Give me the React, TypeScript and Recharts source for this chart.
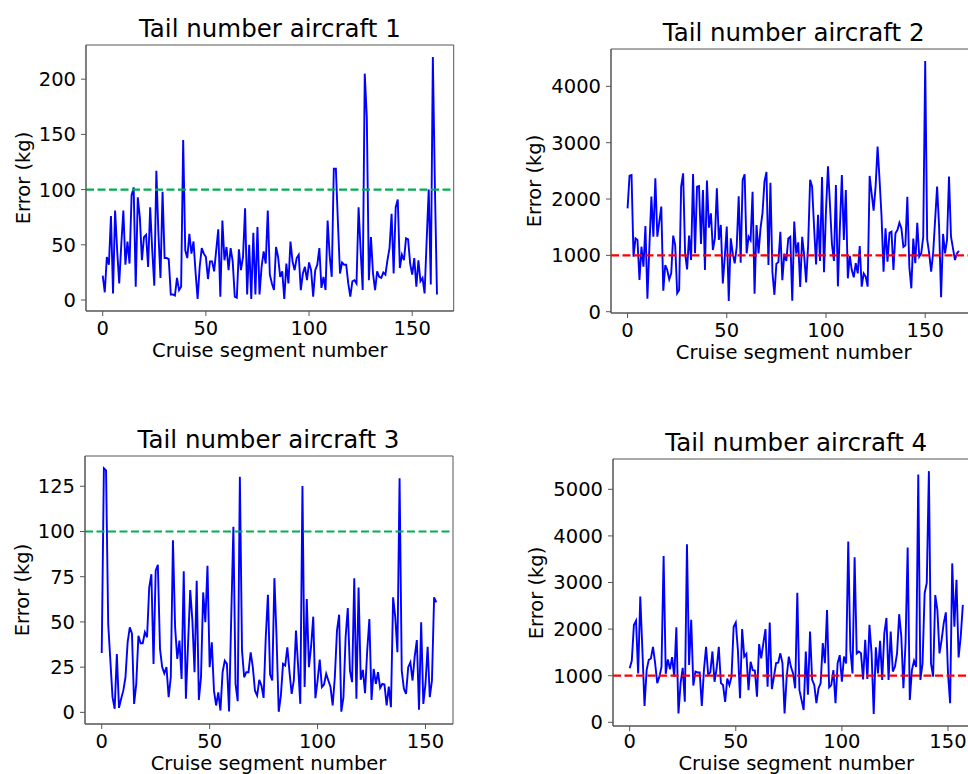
import React from "react";
import { LineChart, Line, XAxis, YAxis, ReferenceLine, ReferenceArea } from "recharts";

const xTicks = [0, 50, 100, 150];

// aircraft 1
const errors1 = [
  22, 7, 39, 32, 76, 6, 81, 45, 15, 50, 81, 32, 53, 33, 95, 102, 12, 93, 75, 36,
  57, 59, 30, 84, 45, 13, 117, 60, 20, 98, 38, 38, 37, 5, 5, 4, 20, 9, 12, 145,
  45, 38, 60, 42, 53, 25, 1, 30, 47, 42, 39, 19, 35, 35, 26, 45, 64, 3, 72, 36,
  48, 27, 47, 35, 3, 2, 46, 27, 39, 83, 5, 50, 1, 61, 5, 66, 5, 30, 44, 33,
  81, 23, 15, 9, 48, 39, 21, 26, 1, 33, 15, 53, 35, 27, 38, 41, 9, 24, 30, 18,
  34, 27, 3, 27, 32, 47, 11, 21, 9, 72, 40, 21, 119, 119, 70, 24, 34, 32, 32, 15,
  3, 17, 18, 15, 84, 45, 9, 205, 165, 18, 57, 24, 9, 26, 21, 20, 25, 23, 36, 47,
  78, 24, 84, 91, 29, 41, 36, 56, 55, 33, 23, 38, 12, 36, 17, 20, 6, 54, 100, 14,
  220, 102, 5,
];
const yTicks1 = [0, 50, 100, 150, 200];

// aircraft 2
const errors2 = [
  1835, 2415, 2427, 977, 1302, 1273, 562, 1154, 800, 1521, 231, 1154, 2042, 1330, 2368, 1332, 1598, 1865, 373, 829,
  740, 574, 681, 1350, 1184, 326, 385, 2220, 2457, 1036, 752, 1350, 918, 2445, 1036, 2220, 2232, 1202, 2160, 740,
  2327, 1492, 1746, 1095, 1300, 2190, 1273, 1540, 503, 977, 1510, 190, 1302, 1036, 858, 1150, 2050, 870, 2340, 2440,
  1036, 1330, 1270, 2130, 320, 1540, 1036, 1480, 1750, 2310, 2480, 830, 2290, 700, 300, 850, 880, 1420, 560, 1030,
  900, 1300, 1330, 195, 1600, 1030, 1230, 440, 1330, 1000, 520, 1180, 2340, 2220, 1500, 840, 1720, 900, 2390, 700,
  1800, 2580, 1900, 1200, 900, 2250, 450, 1500, 2427, 1273, 2160, 592, 990, 740, 610, 860, 680, 1166, 444, 680,
  622, 444, 2410, 2100, 1794, 2220, 2930, 2340, 1690, 710, 1480, 888, 1400, 1420, 740, 1390, 1450, 1580, 1480, 1150,
  1180, 2040, 800, 415, 1300, 860, 1580, 977, 1036, 1330, 4450, 1285, 1036, 710, 1036, 1630, 2220, 1510, 255, 1380,
  1036, 1273, 2400, 1330, 1125, 918, 1036, 1078,
];
const yTicks2 = [0, 1000, 2000, 3000, 4000];

// aircraft 3
const errors3 = [
  32.8, 135, 133.8, 48.9, 28.6, 8.4, 2, 32.3, 2.5, 7.5, 12, 19.4, 38.7, 47, 43.7, 4.7, 15.7, 42.4, 38.2, 38.2,
  44.3, 41.5, 69, 76.4, 26.8, 78.3, 81.6, 35.1, 25, 21.6, 25, 8.4, 19.4, 95.2, 47, 29.5, 39.7, 18.5, 78, 7.5,
  37.8, 67.6, 50.7, 22.2, 72.8, 6.9, 19.4, 66.3, 49.8, 81, 25, 38.7, 12, 3.8, 11.1, 1, 22.2, 28.6, 26.8, 0.5,
  52.5, 102.6, 15.7, 6.2, 130.2, 34.1, 19.4, 22.2, 22.2, 33.2, 25, 12, 9.3, 18, 14.8, 8, 41.5, 65, 20.9, 17.6,
  74.2, 41.5, 0.3, 9.3, 26.8, 25.9, 36, 22.2, 10.2, 17.6, 45.2, 25.3, 4.7, 125.2, 14, 62.6, 25, 36.3, 52.9, 7.8,
  17.6, 29.2, 14, 15.4, 21.3, 17.6, 14, 3.8, 19.4, 45.2, 54, 0.4, 8.4, 41.5, 57.7, 23.1, 16.7, 74.2, 7.5, 69,
  18, 23.5, 10.6, 34.1, 51.6, 6.9, 24, 15.7, 22.2, 13.5, 15.7, 15.4, 3.8, 14.3, 2.9, 63.6, 52.5, 33.2, 129.4, 23.1,
  13, 10.2, 25, 27.7, 17.6, 30.8, 40, 1.4, 49.8, 4.7, 15.7, 36.3, 8.4, 17.6, 63.6, 60.8,
];
const yTicks3 = [0, 25, 50, 75, 100, 125];

// aircraft 4
const errors4 = [
  1160, 1320, 2090, 2180, 1050, 2700, 1550, 350, 1120, 1340, 1370, 1620, 1270, 840, 980, 1190, 3570, 1040, 1350, 1140,
  1400, 980, 2040, 190, 840, 1170, 440, 3820, 1230, 2200, 790, 1090, 1070, 1070, 350, 1120, 1620, 1020, 1070, 1520,
  870, 1160, 1620, 840, 800, 440, 940, 800, 980, 2050, 2140, 1550, 515, 2000, 1410, 1470, 690, 1300, 1120, 1110,
  550, 1680, 1370, 1700, 2000, 765, 2140, 710, 980, 1270, 1280, 1480, 1270, 190, 980, 1410, 1190, 1050, 730, 2780,
  690, 480, 265, 1520, 590, 1950, 910, 800, 410, 730, 840, 1700, 1270, 2410, 750, 800, 1120, 410, 1270, 1440,
  870, 1410, 1260, 3880, 1550, 1050, 3540, 1480, 1520, 1480, 920, 1770, 930, 2090, 1480, 181, 1610, 1050, 1750, 910,
  1910, 2240, 910, 1950, 1090, 1190, 1480, 2320, 1840, 730, 1700, 3750, 480, 1120, 1320, 1190, 5320, 910, 1260, 2770,
  2990, 5390, 1260, 980, 2730, 2410, 1480, 1770, 2130, 2360, 1050, 410, 3410, 2050, 3060, 1390, 1840, 2520,
];
const yTicks4 = [0, 1000, 2000, 3000, 4000, 5000];

const FONT = '"DejaVu Sans", sans-serif';
const TICK = 19.5;
const YW = 70;
const XH = 40;
const PAD = 5;

function pad5(lo: number, hi: number): [number, number] {
  const r = hi - lo;
  return [lo - 0.05 * r, hi + 0.05 * r];
}

interface PanelProps {
  title: string;
  values: number[];
  yTicks: number[];
  limit: number;
  limitColor: string;
  left: number;
  top: number;
  w: number;
  h: number;
  labelGap: number;
  xGap?: number;
}

function Panel({ title, values, yTicks, limit, limitColor, left, top, w, h, labelGap, xGap = 5 }: PanelProps) {
  const data = values.map((y, x) => ({ x, y }));
  const xDom = pad5(0, values.length - 1);
  const yDom = pad5(Math.min(...values), Math.max(...values));
  const tickStyle = { fontSize: TICK, fill: "#000", fontFamily: FONT };

  return (
    <>
      <div style={{ position: "absolute", left: left - YW, top: top - PAD }}>
        <LineChart
          width={YW + w + PAD}
          height={PAD + h + XH}
          data={data}
          margin={{ top: PAD, right: PAD, left: 0, bottom: 0 }}
        >
          <XAxis
            type="number"
            dataKey="x"
            domain={xDom}
            ticks={xTicks}
            allowDataOverflow
            height={XH}
            tick={tickStyle}
            tickSize={5}
            tickMargin={xGap}
            tickLine={{ stroke: "#555" }}
            axisLine={{ stroke: "#555" }}
          />
          <YAxis
            type="number"
            domain={yDom}
            ticks={yTicks}
            allowDataOverflow
            width={YW}
            tick={tickStyle}
            tickSize={5}
            tickMargin={5}
            tickLine={{ stroke: "#555" }}
            axisLine={{ stroke: "#555" }}
          />
          <ReferenceArea
            x1={xDom[0]}
            x2={xDom[1]}
            y1={yDom[0]}
            y2={yDom[1]}
            fill="none"
            stroke="#555"
            strokeWidth={1}
          />
          <Line
            type="linear"
            dataKey="y"
            stroke="#0000ff"
            strokeWidth={1.9}
            dot={false}
            isAnimationActive={false}
          />
          <ReferenceLine y={limit} stroke={limitColor} strokeWidth={2.2} strokeDasharray="8 3.5" />
        </LineChart>
      </div>
      <div
        style={{
          position: "absolute",
          left: left + w / 2,
          top: top - 16,
          transform: "translate(-50%, -50%)",
          fontFamily: FONT,
          fontSize: 24.5,
          whiteSpace: "nowrap",
          lineHeight: 1,
        }}
      >
        {title}
      </div>
      <div
        style={{
          position: "absolute",
          left: left - labelGap,
          top: top + h / 2,
          transform: "translate(-50%, -50%) rotate(-90deg)",
          fontFamily: FONT,
          fontSize: TICK,
          whiteSpace: "nowrap",
          lineHeight: 1,
        }}
      >
        Error (kg)
      </div>
      <div
        style={{
          position: "absolute",
          left: left + w / 2,
          top: Math.min(top + h + 40, 763.5),
          transform: "translate(-50%, -50%)",
          fontFamily: FONT,
          fontSize: TICK,
          whiteSpace: "nowrap",
          lineHeight: 1,
        }}
      >
        Cruise segment number
      </div>
    </>
  );
}

export default function App() {
  return (
    <div
      style={{
        position: "absolute",
        left: 0,
        top: 0,
        width: 968,
        height: 774,
        overflow: "hidden",
        background: "#fff",
      }}
    >
      <Panel title="Tail number aircraft 1" values={errors1} yTicks={yTicks1} limit={100} limitColor="#00b050" left={86} top={44.7} w={367.7} h={266} labelGap={62} />
      <Panel title="Tail number aircraft 2" values={errors2} yTicks={yTicks2} limit={1000} limitColor="#ff0000" left={611.4} top={49} w={364.5} h={264} labelGap={76} />
      <Panel title="Tail number aircraft 3" values={errors3} yTicks={yTicks3} limit={100} limitColor="#00b050" left={84.5} top={456} w={368} h={268} labelGap={62} />
      <Panel title="Tail number aircraft 4" values={errors4} yTicks={yTicks4} limit={1000} limitColor="#ff0000" left={613} top={459} w={366.5} h={267} labelGap={76} xGap={3} />
    </div>
  );
}
